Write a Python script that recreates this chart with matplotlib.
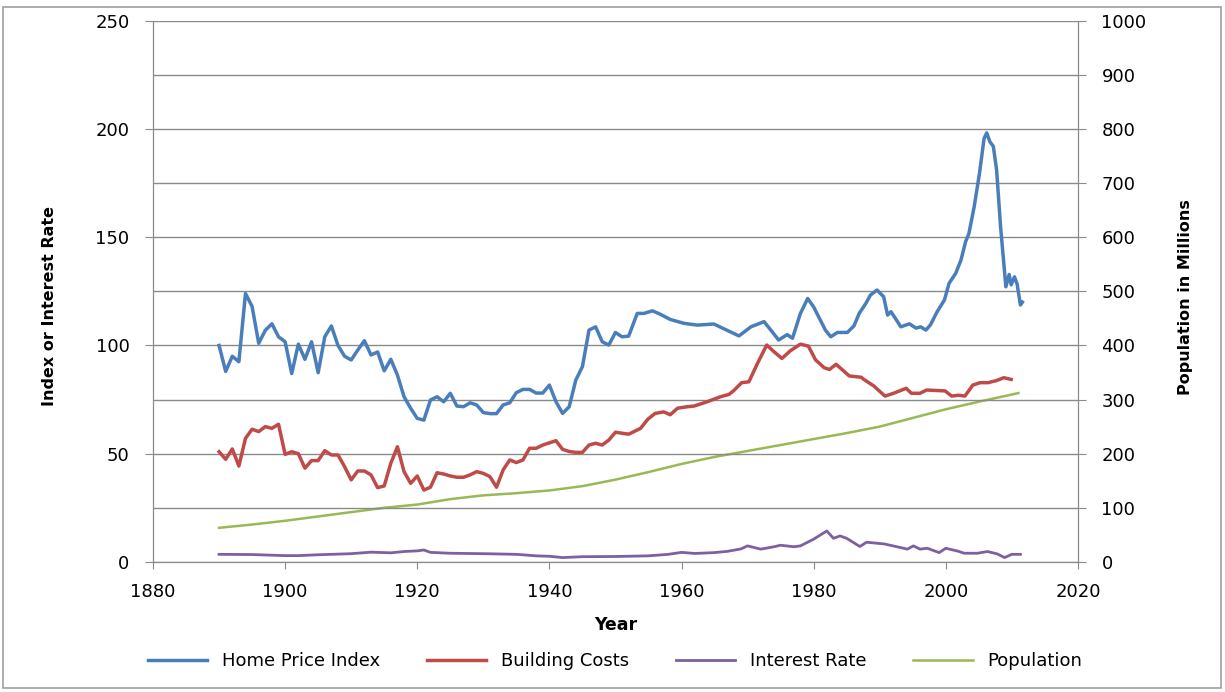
import matplotlib
matplotlib.use("Agg")
import matplotlib.pyplot as plt
from matplotlib.ticker import MultipleLocator
from matplotlib.patches import Rectangle

# values
hpi_years = [1890, 1891, 1892, 1893, 1894, 1895, 1896, 1897, 1898, 1899,
             1900, 1901, 1902, 1903, 1904, 1905, 1906, 1907, 1908, 1909,
             1910, 1911, 1912, 1913, 1914, 1915, 1916, 1917, 1918, 1919,
             1920, 1921, 1922, 1923, 1924, 1925, 1926, 1927, 1928, 1929,
             1930, 1931, 1932, 1933, 1934, 1935, 1936, 1937, 1938, 1939,
             1940, 1941, 1942, 1943, 1944, 1945, 1946, 1947, 1948, 1949,
             1950, 1951, 1952, 1953.3, 1954.3, 1955.6, 1956.8, 1958.3, 1960.4, 1962.4,
             1964.9, 1966.9, 1968.7, 1970.5, 1972.5, 1973.7, 1974.7, 1976, 1976.8, 1978,
             1979.1, 1980, 1981.8, 1982.6, 1983.6, 1985.1, 1986.1, 1986.9, 1987.9, 1988.6,
             1989.6, 1990.6, 1991.2, 1991.7, 1992.4, 1993.2, 1994.5, 1995.5, 1996.2, 1997,
             1997.7, 1998.7, 1999.8, 2000.5, 2001.5, 2002.3, 2003, 2003.5, 2004.3, 2005.1,
             2005.8, 2006.2, 2006.7, 2007.2, 2007.7, 2008.3, 2009.1, 2009.6, 2009.9, 2010.4,
             2010.8, 2011.3, 2011.6]
hpi = [100, 88, 95, 92.5, 124, 118, 101, 107, 110, 104,
       101.7, 87, 100.6, 93.6, 101.7, 87.4, 104, 109, 100, 95,
       93.3, 97.9, 102.2, 95.6, 97, 88.3, 93.6, 86.3, 76.3, 71,
       66.3, 65.5, 74.8, 76.3, 74, 77.9, 72, 71.7, 73.5, 72.5,
       69, 68.5, 68.5, 72.5, 73.5, 78.2, 79.7, 79.7, 78, 78,
       81.7, 74, 68.6, 71.7, 84, 90.2, 107.1, 108.6, 101.7, 100.2,
       106, 104, 104.3, 114.8, 114.8, 116, 114.4, 112, 110.2, 109.4,
       109.9, 107, 104.4, 108.6, 111, 106.4, 102.5, 105, 103.3, 114.8,
       121.7, 117.8, 107, 104, 106, 106, 109, 114.8, 119.4, 123.3,
       125.6, 122.5, 114, 115.6, 112.4, 108.6, 110, 108, 108.6, 107.1,
       109.6, 115.6, 121, 128.7, 133.3, 139.4, 147.9, 151.7, 164, 179.4,
       195.6, 198.2, 194, 192, 181, 154.8, 127.1, 132.8, 128, 131.7,
       128.4, 118.7, 120]

cost_years = [1890, 1891, 1892, 1893, 1894, 1895, 1896, 1897, 1898, 1899,
              1900, 1901, 1902, 1903, 1904, 1905, 1906, 1907, 1908, 1909,
              1910, 1911, 1912, 1913, 1914, 1915, 1916, 1917, 1918, 1919,
              1920, 1921, 1922, 1923, 1924, 1925, 1926, 1927, 1928, 1929,
              1930, 1931, 1932, 1933, 1934, 1935, 1936, 1937, 1938, 1939,
              1940, 1941, 1942, 1943, 1944, 1945, 1946, 1947, 1948, 1949,
              1950, 1952, 1953.8, 1954.9, 1956, 1957.3, 1958.3, 1959.4, 1960.9, 1961.9,
              1963.9, 1965.9, 1967.2, 1967.9, 1969.1, 1970.2, 1971.5, 1972.9, 1974, 1975.2,
              1976.5, 1978, 1979.2, 1980.3, 1981.6, 1982.4, 1983.4, 1984.4, 1985.4, 1987.2,
              1987.6, 1989.1, 1990.8, 1992.1, 1994, 1994.8, 1996.1, 1997.1, 1999.9, 2000.9,
              2001.9, 2002.9, 2004.1, 2005.2, 2006.4, 2007.6, 2008.8, 2009.9]
costs = [50.9, 47.4, 52.2, 44.3, 57.1, 61.3, 60.2, 62.5, 61.7, 63.6,
         49.7, 50.9, 50, 43.3, 46.8, 46.8, 51.4, 49.4, 49.4, 44,
         37.9, 42, 42, 40.2, 34.3, 35.1, 45.6, 53.2, 41.7, 36.3,
         39.7, 33.2, 34.5, 41.2, 40.6, 39.7, 39.1, 39.1, 40.2, 41.7,
         40.9, 39.4, 34.5, 42.5, 47.1, 45.9, 47.1, 52.5, 52.5, 54,
         55, 56, 52, 51, 50.6, 50.6, 54, 54.8, 54, 56.3,
         59.9, 59, 61.7, 65.9, 68.6, 69.3, 68, 71, 71.7, 72,
         74, 76.3, 77.4, 79.1, 82.8, 83.2, 91.7, 100.2, 97.1, 94,
         97.6, 100.6, 99.7, 93.3, 89.7, 88.9, 91.3, 88.6, 85.9, 85.3,
         84.3, 81.3, 76.6, 77.9, 80.2, 77.9, 77.9, 79.4, 79, 76.6,
         77, 76.6, 81.7, 82.8, 82.8, 83.7, 85.1, 84.3]

rate_years = [1890, 1895, 1898, 1900, 1902, 1905, 1908, 1910, 1913, 1916,
              1918, 1920, 1921, 1922, 1925, 1930, 1935, 1938, 1940, 1942,
              1945, 1950, 1955, 1958, 1960, 1962, 1965, 1967, 1969, 1970,
              1972, 1974, 1975, 1977, 1978, 1980, 1982, 1983, 1984, 1985,
              1987, 1988, 1990.7, 1994.2, 1995.1, 1996.1, 1997.2, 1999, 2000, 2001.8,
              2002.8, 2004.8, 2006.3, 2007.8, 2008.9, 2010, 2011.3]
rates = [3.5, 3.4, 3.1, 2.9, 2.9, 3.3, 3.6, 3.8, 4.5, 4.2,
         4.8, 5.1, 5.5, 4.4, 4, 3.8, 3.5, 2.8, 2.6, 2.0,
         2.4, 2.5, 2.8, 3.5, 4.4, 3.9, 4.3, 4.9, 6.0, 7.4,
         5.9, 7.0, 7.7, 7.0, 7.4, 10.5, 14.3, 10.9, 12, 10.9,
         7.1, 9.1, 8.3, 5.9, 7.4, 5.9, 6.3, 4.3, 6.3, 5,
         4, 4, 4.8, 3.7, 2.0, 3.5, 3.5]

pop_years = [1890, 1895, 1900, 1905, 1910, 1915, 1920, 1925, 1930, 1935,
             1940, 1945, 1950, 1955, 1960, 1965, 1970, 1975, 1980, 1985,
             1990, 1995, 2000, 2005, 2011]
population = [63, 69, 76, 84, 92, 100, 106, 116, 123, 127,
              132, 140, 152, 166, 181, 194, 205, 216, 227, 238,
              250, 266, 282, 296, 312]

grey = '#8a8a8a'
plt.rcParams['font.family'] = 'DejaVu Sans'

fig = plt.figure(figsize=(12.25, 6.92), dpi=100)
fig.patches.append(Rectangle((0.0025, 0.006), 0.994, 0.984, transform=fig.transFigure,
                             fill=False, edgecolor='#a0a0a0', linewidth=1.2))
ax = fig.add_axes([0.1249, 0.188, 0.755, 0.782])
ax2 = ax.twinx()
ax.set_zorder(ax2.get_zorder() + 1)
ax.patch.set_visible(False)

ax.plot(hpi_years, hpi, color='#4A7EBB', lw=2.5, label='Home Price Index')
ax.plot(cost_years, costs, color='#BE4B48', lw=2.5, label='Building Costs')
ax.plot(rate_years, rates, color='#7D60A0', lw=2.0, label='Interest Rate')
ax2.plot(pop_years, population, color='#98B954', lw=1.8, label='Population')

ax.set_xlim(1880, 2020)
ax.set_ylim(0, 250)
ax2.set_ylim(0, 1000)
ax.xaxis.set_major_locator(MultipleLocator(20))
ax.yaxis.set_major_locator(MultipleLocator(50))
ax.yaxis.set_minor_locator(MultipleLocator(25))
ax2.yaxis.set_major_locator(MultipleLocator(100))
ax.grid(axis='y', which='both', color=grey, lw=1.0)
ax2.set_axisbelow(True)

for a in (ax, ax2):
    for s in a.spines.values():
        s.set_color(grey)
    a.spines['top'].set_visible(False)
ax.tick_params(axis='y', which='major', direction='out', length=6, color=grey,
               labelsize=13, pad=11)
ax.tick_params(axis='y', which='minor', length=0)
ax.tick_params(axis='x', direction='out', length=5, color=grey, labelsize=13, pad=10)
ax2.tick_params(axis='y', direction='out', length=6, color=grey, labelsize=13, pad=11)

ax.set_xlabel('Year', fontsize=12.5, fontweight='bold', labelpad=11)
ax.set_ylabel('Index or Interest Rate', fontsize=11.5, fontweight='bold')
ax.yaxis.set_label_coords(-0.104, 0.472)
ax2.set_ylabel('Population in Millions', fontsize=11.5, fontweight='bold')
ax2.yaxis.set_label_coords(1.108, 0.489)

h1, l1 = ax.get_legend_handles_labels()
h2, l2 = ax2.get_legend_handles_labels()
fig.legend(h1 + h2, l1 + l2, loc='center', bbox_to_anchor=(0.502, 0.045), ncol=4,
           frameon=False, fontsize=13, handlelength=3.3, columnspacing=2.6)

fig.savefig('out.png', dpi=100)
